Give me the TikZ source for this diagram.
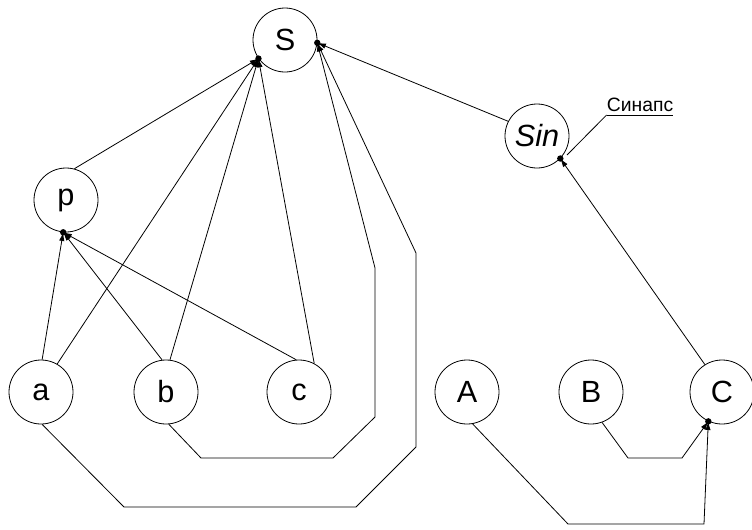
\documentclass[tikz,border=0pt]{standalone}
\usepackage{fontspec}
\setmainfont{Liberation Sans}
\usetikzlibrary{arrows.meta}
\begin{document}
\begin{tikzpicture}[x=0.75pt,y=-0.75pt,>={Latex[length=6.5pt,width=4pt]}]
	\tikzstyle{neuron} = [circle, draw=black, line width=0.6pt, minimum size=48pt, inner sep=0pt, font=\fontsize{23}{26}\selectfont];
	\tikzstyle{link} = [draw=black, line width=0.6pt];
	\useasboundingbox (0,0) rectangle (752,529);
	\draw node [neuron] (S) at (285,40) {S};
	\draw node [neuron] (p) at (66,200) {p};
	\draw node [neuron] (sin) at (537,136) {\itshape Sin};
	\draw node [neuron] (a) at (41,392) {a};
	\draw node [neuron] (b) at (166,392) {b};
	\draw node [neuron] (c) at (299,392) {c};
	\draw node [neuron] (A) at (467,392) {A};
	\draw node [neuron] (B) at (591,392) {B};
	\draw node [neuron] (C) at (722,392) {C};
	\draw node [anchor=south, inner xsep=0pt, inner ysep=2pt, font=\fontsize{14.5}{16}\selectfont] (synlbl) at (640,115) {Синапс};
	
	\draw [link,->] (p.75)--(S.215);
	\draw [link,->] (a.60)--(S.215);
	\draw [link,->] (b.83)--(S.215);
	\draw [link,->] (c.62)--(S.215);
	\draw [link,->] (a.88)--(p.265);
	\draw [link,->] (b.97)--(p.265);
	\draw [link,->] (c.95)--(p.265);
	\draw [link,->] (b.275)--(201,458)--(333,458)--(375,417)--(375,268)--(S.355);
	\draw [link,->] (a.272)--(124,507)--(356,507)--(416,447)--(416,253)--(S.355);
	\draw [link,->] (sin.153)--(S.355);
	\draw [link,->] (C.122)--(sin.316);
	\draw [link,->] (B.290)--(628,458)--(682,458)--(C.245);
	\draw [link,->] (A.280)--(568,524)--(704,524)--(C.245);
	% metka sinapsa
	\draw [link] (synlbl.south west)--(synlbl.south east);
	\draw [link] (synlbl.south west)--(567,155);
	
	\fill (S.215) circle (2.4pt);
	\fill (S.355) circle (2.4pt);
	\fill (p.265) circle (2.4pt);
	\fill (sin.316) circle (2.4pt);
	\fill (C.245) circle (2.4pt);
\end{tikzpicture}
\end{document}
